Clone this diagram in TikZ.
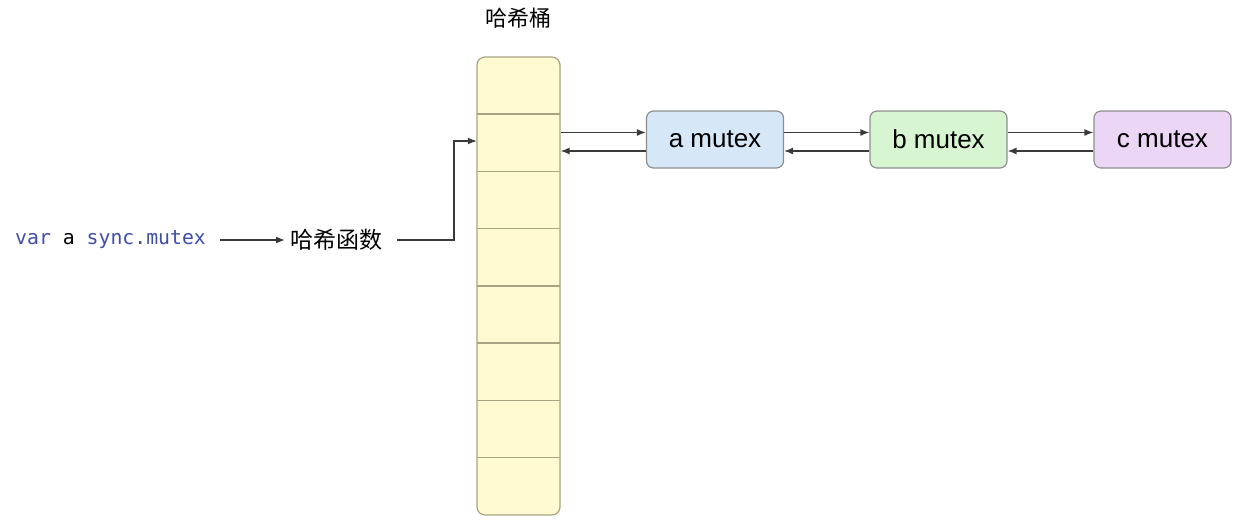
\documentclass[tikz,border=0pt]{standalone}
\usepackage{fontspec}
\setmainfont{Liberation Sans}
\newfontfamily\cjk{Noto Sans CJK SC}
\newfontfamily\codefont{DejaVu Sans Mono}
\usetikzlibrary{arrows.meta,calc}
\definecolor{bucketfill}{HTML}{FFFAD2}
\definecolor{bucketline}{HTML}{A8A482}
\definecolor{afill}{HTML}{D6E7F8}
\definecolor{bfill}{HTML}{D8F5D2}
\definecolor{cfill}{HTML}{ECD6F6}
\definecolor{boxline}{HTML}{8E8E8E}
\definecolor{codeblue}{HTML}{3E4EA8}
\definecolor{wire}{HTML}{3A3A3A}
\tikzset{
  arr/.style={draw=wire, line width=1.3pt, -{Latex[length=9pt,width=7pt]}},
  mutexbox/.style={draw=boxline, line width=1.2pt, rounded corners=7pt, minimum width=137pt, minimum height=57pt, inner sep=0pt, font=\fontsize{26}{30}\selectfont},
  cell/.style={minimum width=83pt, minimum height=57.25pt, inner sep=0pt},
  label/.style={inner sep=0pt}
}
\begin{document}
\begin{tikzpicture}[x=1pt,y=-1pt]
\useasboundingbox (0,0) rectangle (1243,525);
% bucket
\node[draw=bucketline, fill=bucketfill, line width=1.2pt, rounded corners=8pt, minimum width=83pt, minimum height=458pt, inner sep=0pt] (bucket) at (518.5,286) {};
\foreach \i in {1,...,8} {
  \node[cell] (c\i) at (518.5,{57+57.25*(\i-0.5)}) {};
}
\foreach \i in {2,...,8} {
  \draw[draw=bucketline, line width=1.4pt] (c\i.north west) -- (c\i.north east);
}
\node[label, font=\cjk\fontsize{22}{25}\selectfont] (title) at (518.5,18) {哈希桶};
% mutex nodes
\node[mutexbox, fill=afill] (a) at (715,139.5) {a mutex};
\node[mutexbox, fill=bfill] (b) at (938.5,139.5) {b mutex};
\node[mutexbox, fill=cfill] (c) at (1162.5,139.5) {c mutex};
% arrows between bucket and mutexes
\coordinate (a1) at ([yshift=7pt]a.west);
\coordinate (a2) at ([yshift=-11.5pt]a.west);
\draw[arr] (a1 -| bucket.east) -- (a1);
\draw[arr] (a2) -- (a2 -| bucket.east);
\coordinate (b1) at ([yshift=7pt]b.west);
\coordinate (b2) at ([yshift=-11.5pt]b.west);
\draw[arr] (b1 -| a.east) -- (b1);
\draw[arr] (b2) -- (b2 -| a.east);
\coordinate (d1) at ([yshift=7pt]c.west);
\coordinate (d2) at ([yshift=-11.5pt]c.west);
\draw[arr] (d1 -| b.east) -- (d1);
\draw[arr] (d2) -- (d2 -| b.east);
% left side
\node[label, anchor=west, font=\codefont\fontsize{19.8}{22}\selectfont] (var) at (15,240) {\textcolor{codeblue}{var} a \textcolor{codeblue}{sync.mutex}};
\node[label, anchor=west, font=\cjk\fontsize{23}{26}\selectfont] (hash) at (290,240) {哈希函数};
\draw[arr] ([xshift=14pt]var.east) -- ([xshift=-5pt]hash.west);
\coordinate (turn) at (454,141);
\draw[arr] ([xshift=15pt]hash.east) -| (turn) -- (turn -| c2.west);
\end{tikzpicture}
\end{document}
